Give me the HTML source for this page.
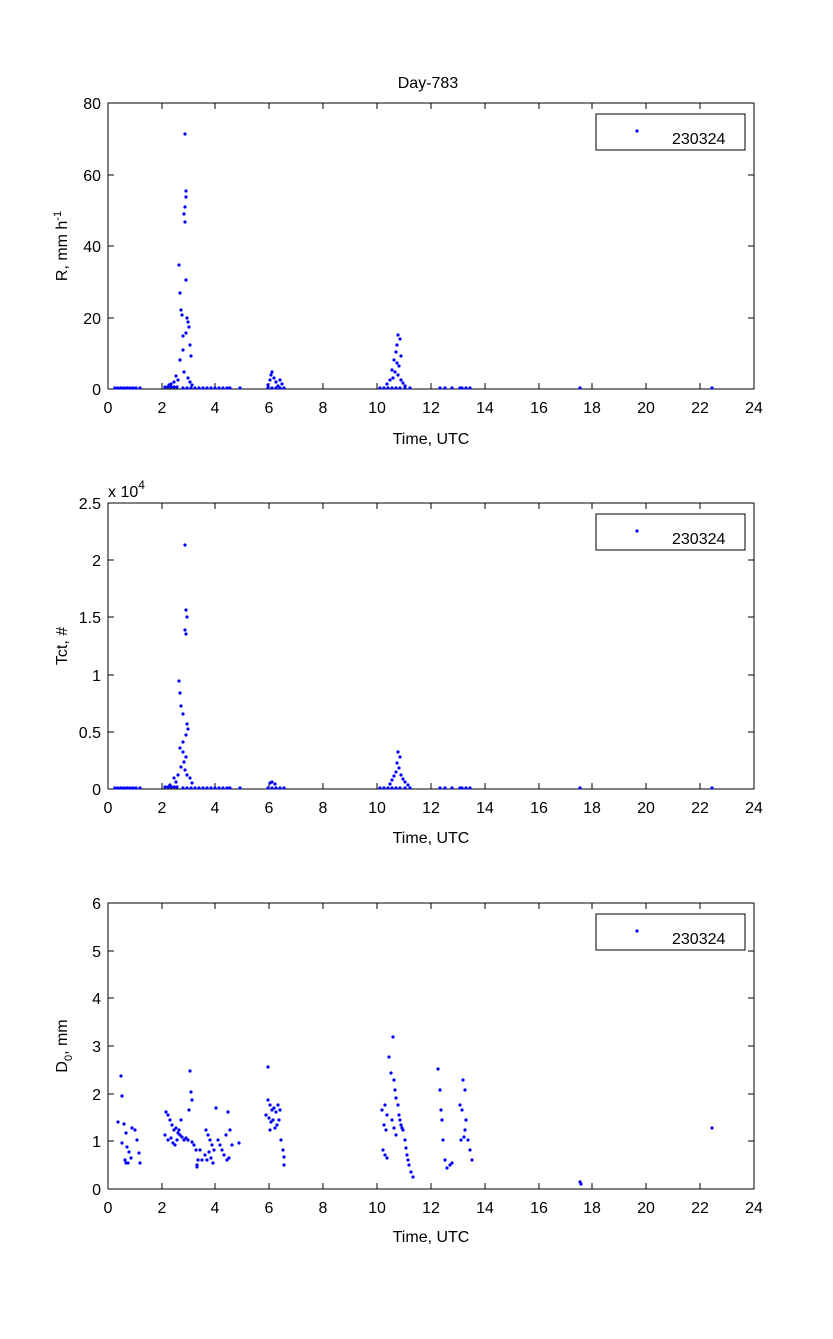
<!DOCTYPE html>
<html><head><meta charset="utf-8"><style>
body{margin:0;background:#fff}
svg text{font-family:"Liberation Sans",sans-serif;font-size:16px;fill:#000}
</style></head><body>
<svg width="833" height="1334" viewBox="0 0 833 1334" xmlns="http://www.w3.org/2000/svg">
<rect width="833" height="1334" fill="#fff"/>
<defs>
<g id="xt" stroke="#000" stroke-width="1">
<path d="M108 0v-5M135 0v-5M162 0v-5M189 0v-5M215 0v-5M242 0v-5M269 0v-5M296 0v-5M323 0v-5M350 0v-5M377 0v-5M404 0v-5M431 0v-5M458 0v-5M485 0v-5M512 0v-5M539 0v-5M565 0v-5M592 0v-5M619 0v-5M646 0v-5M673 0v-5M700 0v-5M727 0v-5M754 0v-5"/>
</g>
</defs>
<text x="428" y="88" text-anchor="middle">Day-783</text>

<!-- Plot 1 -->
<g>
<rect x="108" y="103" width="646" height="286" fill="none" stroke="#000"/>
<g stroke="#000"><path d="M108 389h6M108 318h6M108 246h6M108 175h6M108 103h6M754 389h-6M754 318h-6M754 246h-6M754 175h-6M754 103h-6"/>
<path d="M108 389v-6M162 389v-6M215 389v-6M269 389v-6M323 389v-6M377 389v-6M431 389v-6M485 389v-6M539 389v-6M592 389v-6M646 389v-6M700 389v-6M754 389v-6M108 103v6M162 103v6M215 103v6M269 103v6M323 103v6M377 103v6M431 103v6M485 103v6M539 103v6M592 103v6M646 103v6M700 103v6M754 103v6"/></g>
<g text-anchor="end"><text x="101" y="395">0</text><text x="101" y="324">20</text><text x="101" y="252">40</text><text x="101" y="181">60</text><text x="101" y="109">80</text></g>
<g text-anchor="middle"><text x="108" y="413">0</text><text x="162" y="413">2</text><text x="215" y="413">4</text><text x="269" y="413">6</text><text x="323" y="413">8</text><text x="377" y="413">10</text><text x="431" y="413">12</text><text x="485" y="413">14</text><text x="539" y="413">16</text><text x="592" y="413">18</text><text x="646" y="413">20</text><text x="700" y="413">22</text><text x="754" y="413">24</text></g>
<text x="431" y="444" text-anchor="middle">Time, UTC</text>
<text transform="translate(67,246) rotate(-90)" text-anchor="middle">R, mm h<tspan dy="-6" font-size="11">-1</tspan></text>
<path fill="none" stroke="#0000ff" stroke-width="3.2" stroke-linecap="round" d="M115 388h0M118 388h0M121 388h0M124 388h0M127 388h0M130 388h0M133 388h0M136 388h0M140 388h0M165 387h0M168 387h0M171 387h0M174 387h0M177 387h0M183 388h0M187 388h0M191 388h0M195 388h0M199 388h0M203 388h0M207 388h0M211 388h0M215 388h0M219 388h0M223 388h0M227 388h0M230 388h0M240 388h0M268 388h0M272 388h0M276 388h0M280 388h0M284 388h0M380 388h0M384 388h0M388 388h0M392 388h0M396 388h0M400 388h0M405 388h0M410 388h0M440 388h0M445 388h0M452 388h0M460 388h0M462 388h0M466 388h0M470 388h0M580 388h0M712 388h0M185 134h0M186 191h0M186 197h0M185 207h0M184 214h0M185 222h0M179 265h0M180 293h0M181 310h0M182 315h0M186 280h0M187 318h0M188 322h0M189 327h0M186 333h0M183 336h0M190 345h0M191 356h0M183 350h0M180 360h0M184 372h0M176 376h0M178 380h0M174 382h0M171 384h0M169 385h0M188 378h0M190 382h0M192 385h0M270 380h0M271 375h0M272 372h0M274 378h0M276 382h0M280 380h0M268 385h0M278 386h0M282 384h0M398 335h0M400 339h0M397 345h0M396 352h0M401 356h0M394 360h0M397 363h0M399 366h0M392 370h0M395 372h0M398 375h0M393 378h0M390 380h0M401 380h0M403 383h0M387 384h0M405 386h0"/>
<rect x="596" y="114" width="149" height="36" fill="#fff" stroke="#000"/>
<path stroke="#0000ff" stroke-width="3.2" stroke-linecap="round" d="M637 131h0"/>
<text x="672" y="144">230324</text>
</g>

<!-- Plot 2 -->
<g>
<rect x="108" y="503" width="646" height="286" fill="none" stroke="#000"/>
<g stroke="#000"><path d="M108 789h6M108 732h6M108 675h6M108 617h6M108 560h6M108 503h6M754 789h-6M754 732h-6M754 675h-6M754 617h-6M754 560h-6M754 503h-6"/>
<path d="M108 789v-6M162 789v-6M215 789v-6M269 789v-6M323 789v-6M377 789v-6M431 789v-6M485 789v-6M539 789v-6M592 789v-6M646 789v-6M700 789v-6M754 789v-6M108 503v6M162 503v6M215 503v6M269 503v6M323 503v6M377 503v6M431 503v6M485 503v6M539 503v6M592 503v6M646 503v6M700 503v6M754 503v6"/></g>
<g text-anchor="end"><text x="101" y="795">0</text><text x="101" y="738">0.5</text><text x="101" y="681">1</text><text x="101" y="623">1.5</text><text x="101" y="566">2</text><text x="101" y="509">2.5</text></g>
<text x="108" y="497">x 10<tspan dy="-8" font-size="12">4</tspan></text>
<g text-anchor="middle"><text x="108" y="813">0</text><text x="162" y="813">2</text><text x="215" y="813">4</text><text x="269" y="813">6</text><text x="323" y="813">8</text><text x="377" y="813">10</text><text x="431" y="813">12</text><text x="485" y="813">14</text><text x="539" y="813">16</text><text x="592" y="813">18</text><text x="646" y="813">20</text><text x="700" y="813">22</text><text x="754" y="813">24</text></g>
<text x="431" y="843" text-anchor="middle">Time, UTC</text>
<text transform="translate(67,646) rotate(-90)" text-anchor="middle">Tct, #</text>
<path fill="none" stroke="#0000ff" stroke-width="3.2" stroke-linecap="round" d="M115 788h0M118 788h0M121 788h0M124 788h0M127 788h0M130 788h0M133 788h0M136 788h0M140 788h0M165 787h0M168 787h0M171 787h0M174 787h0M177 787h0M183 788h0M187 788h0M191 788h0M195 788h0M199 788h0M203 788h0M207 788h0M211 788h0M215 788h0M219 788h0M223 788h0M227 788h0M230 788h0M240 788h0M268 788h0M272 788h0M276 788h0M280 788h0M284 788h0M380 788h0M384 788h0M388 788h0M392 788h0M396 788h0M400 788h0M405 788h0M410 788h0M440 788h0M445 788h0M452 788h0M460 788h0M462 788h0M466 788h0M470 788h0M580 788h0M712 788h0M185 545h0M186 610h0M187 617h0M185 630h0M186 634h0M179 681h0M180 693h0M181 706h0M183 714h0M187 724h0M188 729h0M186 735h0M183 742h0M180 748h0M183 752h0M186 757h0M184 762h0M181 767h0M185 770h0M187 775h0M178 775h0M174 778h0M190 778h0M176 782h0M192 783h0M170 785h0M270 783h0M272 782h0M275 784h0M398 752h0M400 757h0M397 763h0M399 768h0M396 772h0M401 775h0M394 776h0M403 779h0M392 780h0M405 782h0M390 784h0M408 785h0"/>
<rect x="596" y="514" width="149" height="36" fill="#fff" stroke="#000"/>
<path stroke="#0000ff" stroke-width="3.2" stroke-linecap="round" d="M637 531h0"/>
<text x="672" y="544">230324</text>
</g>

<!-- Plot 3 -->
<g>
<rect x="108" y="903" width="646" height="286" fill="none" stroke="#000"/>
<g stroke="#000"><path d="M108 1189h6M108 1141h6M108 1094h6M108 1046h6M108 998h6M108 951h6M108 903h6M754 1189h-6M754 1141h-6M754 1094h-6M754 1046h-6M754 998h-6M754 951h-6M754 903h-6"/>
<path d="M108 1189v-6M162 1189v-6M215 1189v-6M269 1189v-6M323 1189v-6M377 1189v-6M431 1189v-6M485 1189v-6M539 1189v-6M592 1189v-6M646 1189v-6M700 1189v-6M754 1189v-6M108 903v6M162 903v6M215 903v6M269 903v6M323 903v6M377 903v6M431 903v6M485 903v6M539 903v6M592 903v6M646 903v6M700 903v6M754 903v6"/></g>
<g text-anchor="end"><text x="101" y="1195">0</text><text x="101" y="1147">1</text><text x="101" y="1100">2</text><text x="101" y="1052">3</text><text x="101" y="1004">4</text><text x="101" y="957">5</text><text x="101" y="909">6</text></g>
<g text-anchor="middle"><text x="108" y="1213">0</text><text x="162" y="1213">2</text><text x="215" y="1213">4</text><text x="269" y="1213">6</text><text x="323" y="1213">8</text><text x="377" y="1213">10</text><text x="431" y="1213">12</text><text x="485" y="1213">14</text><text x="539" y="1213">16</text><text x="592" y="1213">18</text><text x="646" y="1213">20</text><text x="700" y="1213">22</text><text x="754" y="1213">24</text></g>
<text x="431" y="1242" text-anchor="middle">Time, UTC</text>
<text transform="translate(67,1046) rotate(-90)" text-anchor="middle">D<tspan dy="5" font-size="11">0</tspan><tspan dy="-5">, mm</tspan></text>
<path fill="none" stroke="#0000ff" stroke-width="3.2" stroke-linecap="round" d="M121 1076h0M122 1096h0M118 1122h0M124 1124h0M126 1133h0M122 1143h0M127 1147h0M129 1152h0M125 1160h0M128 1163h0M132 1128h0M135 1130h0M137 1140h0M139 1153h0M131 1158h0M140 1163h0M126 1163h0M190 1071h0M191 1092h0M192 1100h0M189 1110h0M166 1112h0M168 1115h0M170 1120h0M172 1125h0M174 1130h0M176 1128h0M178 1133h0M180 1135h0M182 1137h0M184 1140h0M186 1138h0M188 1140h0M192 1142h0M194 1145h0M196 1150h0M198 1160h0M197 1167h0M165 1135h0M168 1140h0M171 1138h0M173 1143h0M175 1145h0M177 1140h0M179 1130h0M181 1120h0M216 1108h0M206 1130h0M208 1135h0M210 1140h0M212 1145h0M214 1150h0M205 1155h0M207 1160h0M209 1152h0M211 1158h0M213 1163h0M218 1140h0M220 1145h0M222 1150h0M224 1155h0M226 1135h0M228 1112h0M230 1130h0M232 1145h0M229 1158h0M227 1160h0M200 1150h0M202 1160h0M197 1165h0M239 1143h0M268 1067h0M268 1100h0M270 1105h0M272 1110h0M274 1108h0M276 1112h0M278 1105h0M280 1110h0M266 1115h0M269 1118h0M271 1122h0M273 1120h0M275 1128h0M277 1125h0M279 1120h0M281 1140h0M283 1150h0M284 1157h0M284 1165h0M270 1130h0M393 1037h0M389 1057h0M391 1073h0M394 1080h0M395 1090h0M385 1105h0M387 1115h0M384 1125h0M386 1130h0M382 1110h0M396 1098h0M398 1105h0M399 1115h0M400 1120h0M401 1125h0M402 1128h0M403 1130h0M405 1140h0M406 1148h0M407 1155h0M408 1160h0M409 1165h0M411 1172h0M413 1177h0M385 1155h0M387 1158h0M383 1150h0M392 1120h0M394 1128h0M396 1135h0M438 1069h0M440 1090h0M441 1110h0M442 1120h0M443 1140h0M445 1160h0M447 1168h0M450 1165h0M452 1163h0M463 1080h0M460 1105h0M462 1110h0M465 1130h0M464 1137h0M466 1120h0M468 1140h0M470 1150h0M472 1160h0M461 1140h0M465 1090h0M580 1182h0M581 1184h0M712 1128h0"/>
<rect x="596" y="914" width="149" height="36" fill="#fff" stroke="#000"/>
<path stroke="#0000ff" stroke-width="3.2" stroke-linecap="round" d="M637 931h0"/>
<text x="672" y="944">230324</text>
</g>
</svg>
</body></html>
